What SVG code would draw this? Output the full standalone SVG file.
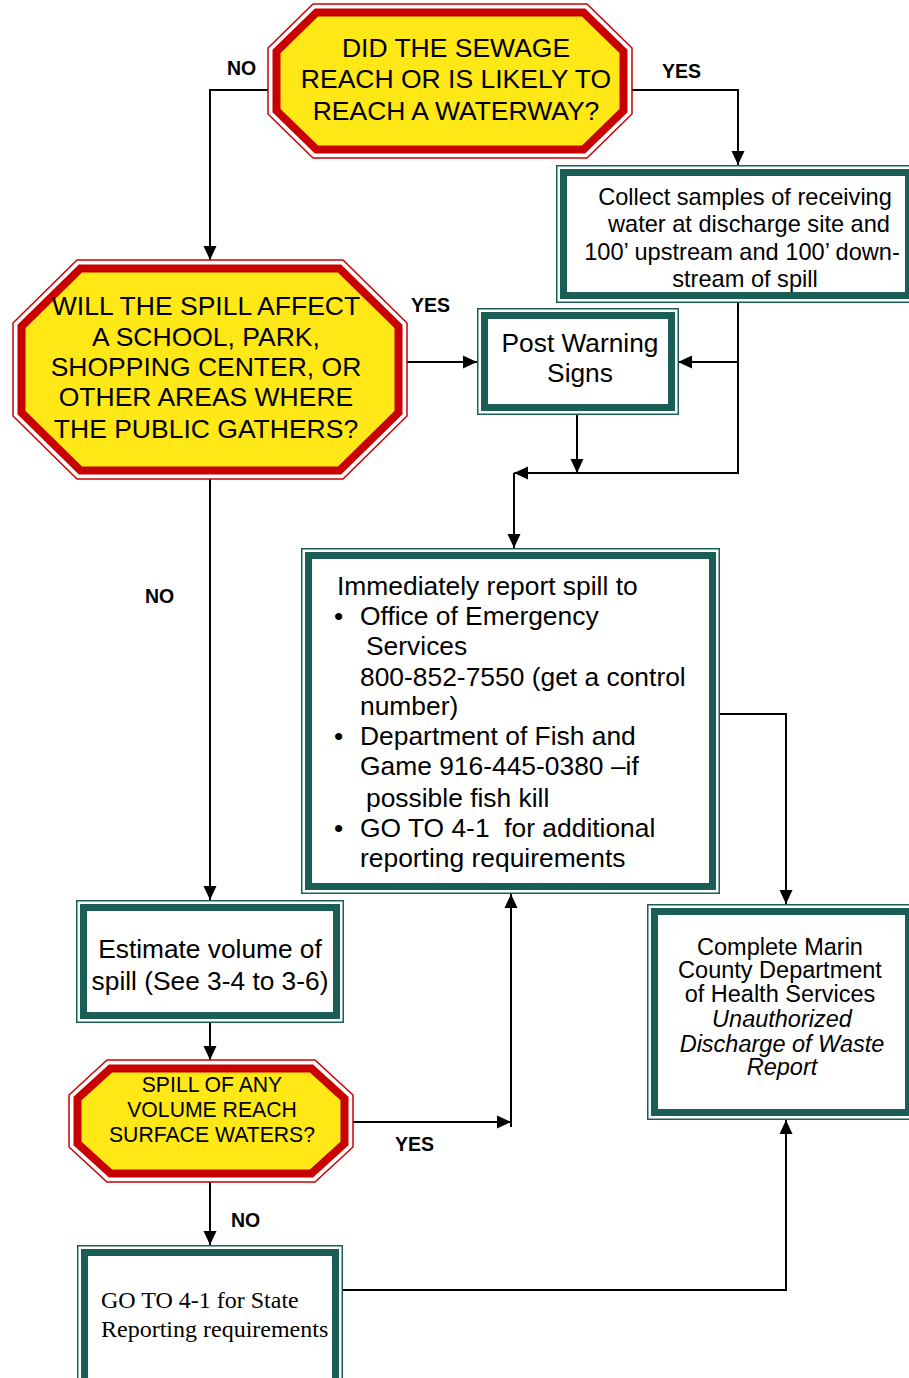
<svg xmlns="http://www.w3.org/2000/svg" width="909" height="1378" viewBox="0 0 909 1378">
<style>
.oct-out{fill:#ffffff;stroke:#c80000;stroke-width:1.5}
.oct-in{fill:#ffe815;stroke:#c80000;stroke-width:8;stroke-linejoin:miter}
.box-out{fill:#ffffff;stroke:#1b5e57;stroke-width:1.5}
.box-in{fill:#ffffff;stroke:#1b5e57;stroke-width:7}
.t{font-family:"Liberation Sans",Arial,sans-serif;fill:#000}
.c{text-anchor:middle}
.lbl{font-family:"Liberation Sans",Arial,sans-serif;font-weight:bold;font-size:19.5px;fill:#000}
.conn{fill:none;stroke:#000;stroke-width:2}
.pre{white-space:pre}
</style>
<defs>
<marker id="ah" viewBox="0 0 14 14" refX="14" refY="7" markerWidth="14" markerHeight="14" orient="auto" markerUnits="userSpaceOnUse">
<path d="M0,0.5 L14,7 L0,13.5 z" fill="#000"/>
</marker>
</defs>
<rect width="909" height="1378" fill="#ffffff"/>

<g id="connectors">
<path class="conn" d="M268,90 H210 V260" marker-end="url(#ah)"/>
<path class="conn" d="M632,90 H738 V165" marker-end="url(#ah)"/>
<path class="conn" d="M738,303 V473 H514" marker-end="url(#ah)"/>
<path class="conn" d="M514,473 V548" marker-end="url(#ah)"/>
<path class="conn" d="M738,362 H678" marker-end="url(#ah)"/>
<path class="conn" d="M577,415 V473" marker-end="url(#ah)"/>
<path class="conn" d="M407,362 H477" marker-end="url(#ah)"/>
<path class="conn" d="M210,479 V900" marker-end="url(#ah)"/>
<path class="conn" d="M720,714 H786 V904" marker-end="url(#ah)"/>
<path class="conn" d="M210,1023 V1060" marker-end="url(#ah)"/>
<path class="conn" d="M352,1122 H511" marker-end="url(#ah)"/>
<path class="conn" d="M511,1127 V894" marker-end="url(#ah)"/>
<path class="conn" d="M210,1182 V1245" marker-end="url(#ah)"/>
<path class="conn" d="M343,1290 H786 V1120" marker-end="url(#ah)"/>
</g>

<g id="labels">
<text class="lbl" x="227" y="75">NO</text>
<text class="lbl" x="662" y="78">YES</text>
<text class="lbl" x="411" y="312">YES</text>
<text class="lbl" x="145" y="603">NO</text>
<text class="lbl" x="395" y="1151">YES</text>
<text class="lbl" x="231" y="1227">NO</text>
</g>

<g id="q-waterway">
<polygon class="oct-out" points="313,4 587,4 632,48 632,114 587,158 313,158 268,114 268,48"/>
<polygon class="oct-in" points="316.5,12.5 583.5,12.5 623.5,51.5 623.5,110.5 583.5,149.5 316.5,149.5 276.5,110.5 276.5,51.5"/>
<text class="t c" font-size="26.5" x="456" y="57">DID THE SEWAGE</text>
<text class="t c" font-size="26.5" x="456" y="88">REACH OR IS LIKELY TO</text>
<text class="t c" font-size="26.5" x="456" y="120">REACH A WATERWAY?</text>
</g>

<g id="collect-samples">
<rect class="box-out" x="556.75" y="165.75" width="358.5" height="136.5"/>
<rect class="box-in" x="563.5" y="172.5" width="345" height="123"/>
<text class="t c" font-size="23.6" x="745" y="205">Collect samples of receiving</text>
<text class="t c" font-size="23.6" x="749" y="232">water at discharge site and</text>
<text class="t c" font-size="23.6" x="742" y="260">100’ upstream and 100’ down-</text>
<text class="t c" font-size="23.6" x="745" y="287">stream of spill</text>
</g>

<g id="q-public">
<polygon class="oct-out" points="77,260 343,260 407,323 407,416 343,479 77,479 13,416 13,323"/>
<polygon class="oct-in" points="80.5,268.5 339.5,268.5 398.5,326.5 398.5,412.5 339.5,470.5 80.5,470.5 21.5,412.5 21.5,326.5"/>
<text class="t c" font-size="26.5" x="206" y="315">WILL THE SPILL AFFECT</text>
<text class="t c" font-size="26.5" x="206" y="346">A SCHOOL, PARK,</text>
<text class="t c" font-size="26.5" x="206" y="376">SHOPPING CENTER, OR</text>
<text class="t c" font-size="26.5" x="206" y="406">OTHER AREAS WHERE</text>
<text class="t c" font-size="26.5" x="206" y="438">THE PUBLIC GATHERS?</text>
</g>

<g id="post-signs">
<rect class="box-out" x="477.75" y="308.75" width="200.5" height="105.5"/>
<rect class="box-in" x="484.5" y="315.5" width="187" height="92"/>
<text class="t c" font-size="26.3" x="580" y="352">Post Warning</text>
<text class="t c" font-size="26.3" x="580" y="382">Signs</text>
</g>

<g id="report-spill">
<rect class="box-out" x="301.75" y="548.75" width="417.5" height="344.5"/>
<rect class="box-in" x="308.5" y="555.5" width="404" height="331"/>
<g class="t" font-size="26.4">
<text x="337" y="595">Immediately report spill to</text>
<text x="334" y="625">•</text>
<text x="360" y="625">Office of Emergency</text>
<text x="366" y="655">Services</text>
<text x="360" y="686">800-852-7550 (get a control</text>
<text x="360" y="715">number)</text>
<text x="334" y="745">•</text>
<text x="360" y="745">Department of Fish and</text>
<text x="360" y="775">Game 916-445-0380 –if</text>
<text x="366" y="807">possible fish kill</text>
<text x="334" y="837">•</text>
<text class="pre" x="360" y="837">GO TO 4-1  for additional</text>
<text x="360" y="867">reporting requirements</text>
</g>
</g>

<g id="complete-report">
<rect class="box-out" x="647.75" y="904.75" width="266.5" height="214.5"/>
<rect class="box-in" x="654.5" y="911.5" width="254" height="201"/>
<text class="t c" font-size="23.5" x="780" y="955">Complete Marin</text>
<text class="t c" font-size="23.5" x="780" y="978">County Department</text>
<text class="t c" font-size="23.5" x="780" y="1002">of Health Services</text>
<text class="t c" font-size="23.5" font-style="italic" x="782" y="1027">Unauthorized</text>
<text class="t c" font-size="23.5" font-style="italic" x="782" y="1052">Discharge of Waste</text>
<text class="t c" font-size="23.5" font-style="italic" x="782" y="1075">Report</text>
</g>

<g id="estimate-volume">
<rect class="box-out" x="76.75" y="900.75" width="266.5" height="121.5"/>
<rect class="box-in" x="83.5" y="907.5" width="253" height="108"/>
<text class="t c" font-size="26.3" x="210" y="958">Estimate volume of</text>
<text class="t c" font-size="26.3" x="210" y="990">spill (See 3-4 to 3-6)</text>
</g>

<g id="q-surface">
<polygon class="oct-out" points="107,1060 315,1060 353,1095 353,1147 315,1182 107,1182 69,1147 69,1095"/>
<polygon class="oct-in" points="110.5,1068.5 311.5,1068.5 344.5,1098.5 344.5,1143.5 311.5,1173.5 110.5,1173.5 77.5,1143.5 77.5,1098.5"/>
<text class="t c" font-size="21.2" x="212" y="1092">SPILL OF ANY</text>
<text class="t c" font-size="21.2" x="212" y="1117">VOLUME REACH</text>
<text class="t c" font-size="21.2" x="212" y="1142">SURFACE WATERS?</text>
</g>

<g id="state-reporting">
<rect class="box-out" x="77.75" y="1245.75" width="264.5" height="150"/>
<rect class="box-in" x="84.5" y="1252.5" width="251" height="140"/>
<text font-family="'Liberation Serif','Times New Roman',serif" font-size="24" x="101" y="1308">GO TO 4-1 for State</text>
<text font-family="'Liberation Serif','Times New Roman',serif" font-size="24" x="101" y="1337">Reporting requirements</text>
</g>
</svg>
